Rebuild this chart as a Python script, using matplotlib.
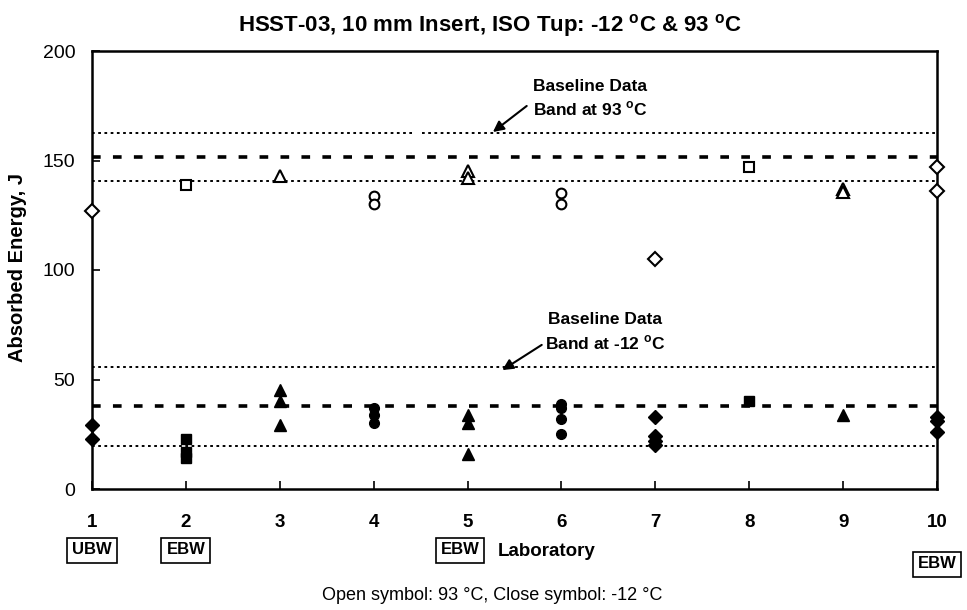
import matplotlib
matplotlib.use("Agg")
import matplotlib.pyplot as plt

plt.rcParams['font.family'] = ['Liberation Sans', 'DejaVu Sans']
plt.rcParams['mathtext.fontset'] = 'custom'
plt.rcParams['mathtext.rm'] = 'Liberation Sans'
plt.rcParams['mathtext.bf'] = 'Liberation Sans:bold'

# ---- data ----
labs = [1, 2, 3, 4, 5, 6, 7, 8, 9, 10]
lab_markers = ['D', 's', '^', 'o', '^', 'o', 'D', 's', '^', 'D']
open_93C = [[127], [139], [143], [134, 130], [145, 142], [135, 130],
            [105], [147], [137, 135.5], [147, 136]]
closed_m12C = [[29, 23], [23, 17, 14], [45, 40, 29], [37, 34, 30], [34, 30, 16],
               [39, 37, 32, 25], [33, 24, 22, 20], [40], [34], [33, 31, 26]]
band_93C = [162.5, 151.5, 140.5]   # upper, mean, lower
band_m12C = [55.5, 38.0, 19.5]
x_ticks = [1, 2, 3, 4, 5, 6, 7, 8, 9, 10]
y_ticks = [0, 50, 100, 150, 200]
lab_tags = {1: 'UBW', 2: 'EBW', 5: 'EBW', 10: 'EBW'}

fig = plt.figure(figsize=(9.67, 6.10), dpi=100)
ax = fig.add_axes([92/967, 1-489/610, (937-92)/967, (489-51)/610])
ax.set_xlim(1, 10)
ax.set_ylim(0, 200)

# baseline bands
dot_style = dict(color='black', lw=1.4, linestyle=(0, (1.4, 1.8)), zorder=2)
dash_style = dict(color='black', lw=2.6, linestyle=(0, (2.4, 3.4)), zorder=2)
for band in (band_93C, band_m12C):
    ax.plot([1, 10], [band[1]] * 2, **dash_style)
    ax.plot([1, 10], [band[2]] * 2, **dot_style)
# upper 93 C line has a small gap
ax.plot([1, 4.41], [band_93C[0]] * 2, **dot_style)
ax.plot([4.52, 10], [band_93C[0]] * 2, **dot_style)
ax.plot([1, 10], [band_m12C[0]] * 2, **dot_style)

msize = {'D': 7.5, 's': 7, '^': 8, 'o': 7}
for lab, mk, ov, cv in zip(labs, lab_markers, open_93C, closed_m12C):
    ax.plot([lab] * len(ov), ov, linestyle='none', marker=mk, ms=msize[mk],
            mfc='white', mec='black', mew=1.5, clip_on=False, zorder=4)
    ax.plot([lab] * len(cv), cv, linestyle='none', marker=mk, ms=msize[mk],
            mfc='black', mec='black', mew=1.0, clip_on=False, zorder=4)

for s in ax.spines.values():
    s.set_linewidth(1.8)
ax.set_xticks(x_ticks)
ax.set_yticks(y_ticks)
ax.tick_params(axis='both', direction='in', length=6, width=1.2)
ax.tick_params(axis='x', pad=18, labelsize=13.5)
ax.tick_params(axis='y', pad=12, labelsize=14)
for t in ax.get_xticklabels():
    t.set_fontweight('bold')

# annotations
arrow = dict(arrowstyle='-|>', color='black', lw=1.5, mutation_scale=16, shrinkA=0, shrinkB=0)
ax.annotate('', xy=(5.27, 163.0), xytext=(5.63, 174.9), arrowprops=arrow)
ax.text(5.70, 183.6, 'Baseline Data', fontsize=12.5, fontweight='bold', va='center', ha='left')
ax.text(5.70, 173.5, r'Band at 93 $^{\mathbf{o}}$C', fontsize=12.5, fontweight='bold',
        va='center', ha='left')
ax.annotate('', xy=(5.37, 54.3), xytext=(5.79, 65.8), arrowprops=arrow)
ax.text(5.86, 77.6, 'Baseline Data', fontsize=12.5, fontweight='bold', va='center', ha='left')
ax.text(5.82, 66.7, r'Band at -12 $^{\mathbf{o}}$C', fontsize=12.5, fontweight='bold',
        va='center', ha='left')

fig.text(490/967, 1-26/610, r'HSST-03, 10 mm Insert, ISO Tup: -12 $^{\mathbf{o}}$C & 93 $^{\mathbf{o}}$C',
         fontsize=16, fontweight='bold', ha='center', va='center')
fig.text(18/967, 1-268/610, 'Absorbed Energy, J', fontsize=14.5, fontweight='bold',
         rotation=90, ha='center', va='center')

box = dict(boxstyle='square,pad=0.3', fc='white', ec='black', lw=1.2)
for lab, tag in lab_tags.items():
    xpx = 92 + (lab - 1) * (937 - 92) / 9
    ypx = 550
    if lab == 5:
        xpx = 460
    if lab == 10:
        ypx = 564
    fig.text(xpx/967, 1-ypx/610, tag, fontsize=12, fontweight='bold',
             ha='center', va='center', bbox=box)
fig.text(498/967, 1-552/610, 'Laboratory', fontsize=13.5, fontweight='bold',
         ha='left', va='center')
fig.text(492/967, 1-595/610, 'Open symbol: 93 °C, Close symbol: -12 °C', fontsize=13,
         ha='center', va='center')

fig.savefig('out.png', dpi=100)
